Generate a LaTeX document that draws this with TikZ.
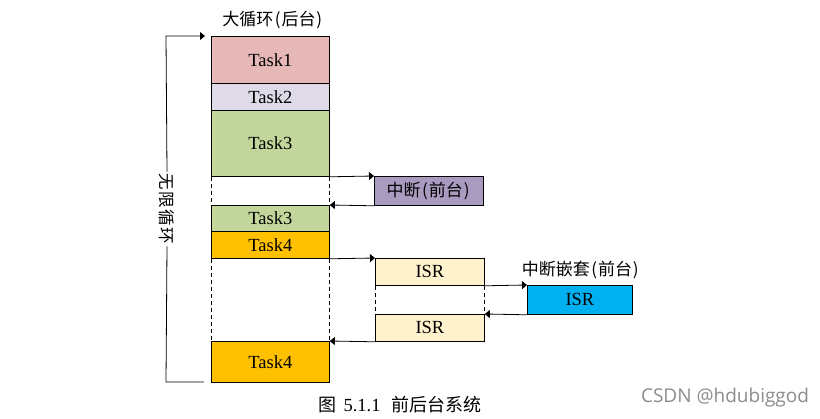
\documentclass[tikz,border=0pt]{standalone}
\usepackage{fontspec}
\setmainfont{Liberation Serif}
\newfontfamily\cjk{Noto Sans CJK SC}
\newfontfamily\wmfont{Open Sans}
\usetikzlibrary{arrows.meta}
\definecolor{cone}{HTML}{E6B9B8}
\definecolor{ctwo}{HTML}{DFDAE8}
\definecolor{cthree}{HTML}{C3D69B}
\definecolor{cfour}{HTML}{FFC000}
\definecolor{cint}{HTML}{A99BC0}
\definecolor{cisr}{HTML}{FFF2CC}
\definecolor{cnest}{HTML}{00B0F0}
\newcommand{\lp}{\kern1.5pt(\kern1pt}
\newcommand{\rp}{\kern1pt)\kern1.5pt}
\begin{document}
\begin{tikzpicture}[x=1pt,y=-1pt,
  box/.style={draw=black, line width=0.8pt, anchor=north west, inner sep=0pt,
    font=\fontsize{18.5}{20}\selectfont},
  arr/.style={-{Triangle[length=5pt,width=8pt]}, line width=0.8pt},
  gap/.style={line width=0.8pt, dash pattern=on 4pt off 3pt},
  cjkfont/.style={font=\cjk\fontsize{17}{19}\selectfont},
  cjklabel/.style={cjkfont, inner sep=0pt}]
\useasboundingbox (0,0) rectangle (820,419);
% main column
\node[box, fill=cone,   minimum width=118pt, minimum height=47pt] (t1)  at (211,36)  {Task1};
\node[box, fill=ctwo,   minimum width=118pt, minimum height=27pt] (t2)  at (211,83)  {Task2};
\node[box, fill=cthree, minimum width=118pt, minimum height=66pt] (t3)  at (211,110) {Task3};
\node[box, fill=cthree, minimum width=118pt, minimum height=26pt] (t3b) at (211,205) {Task3};
\node[box, fill=cfour,  minimum width=118pt, minimum height=27pt] (t4)  at (211,231) {Task4};
\node[box, fill=cfour,  minimum width=118pt, minimum height=41pt] (t4b) at (211,341) {Task4};
% foreground
\node[box, fill=cint,  minimum width=109pt, minimum height=29pt, cjkfont] (int) at (374,176) {中断\lp 前台\rp};
\node[box, fill=cisr,  minimum width=109pt, minimum height=27pt] (isr1) at (375,258) {ISR};
\node[box, fill=cisr,  minimum width=109pt, minimum height=27pt] (isr2) at (375,314) {ISR};
\node[box, fill=cnest, minimum width=105pt, minimum height=29pt] (nest) at (527,285) {ISR};
% labels
\node[cjklabel] (title) at (273,20) {大循环\lp 后台\rp};
\node[cjklabel] (nestlabel) at (581,270) {中断嵌套\lp 前台\rp};
% dashed gaps
\draw[gap] (t3.south west) -- (t3b.north west);
\draw[gap] (t3.south east) -- (t3b.north east);
\draw[gap] (t4.south west) -- (t4b.north west);
\draw[gap] (t4.south east) -- (t4b.north east);
\draw[gap] (isr1.south west) -- (isr2.north west);
\draw[gap] (isr1.south east) -- (isr2.north east);
% arrows
\draw[arr] (t3.south east) -- (int.north west);
\draw[arr] (int.south west) -- (t3b.north east);
\draw[arr] (t4.south east) -- (isr1.north west);
\draw[arr] (isr2.south west) -- (t4b.north east);
\draw[arr] (isr1.south east) -- (nest.north west);
\draw[arr] (nest.south west) -- (isr2.north east);
% infinite loop
\node[rotate=-90, font=\cjk\fontsize{16.5}{18}\selectfont, inner xsep=2pt, inner ysep=0pt] (loop) at (167,209) {无\kern1.5pt 限\kern1.5pt 循\kern1.5pt 环};
\coordinate (lb) at (204,382);
\coordinate (lc) at (166,382);
\coordinate (tc) at (166,36);
\coordinate (ta) at (205,36);
\draw[line width=0.8pt] (lb) -- (lc) -- (loop.east);
\draw[arr] (loop.west) -- (tc) -- (ta);
% caption
\node[inner sep=0pt] (caption) at (400,405) {\cjk\fontsize{18}{19}\selectfont 图\hspace{7pt}\normalfont\fontsize{18.5}{19}\selectfont 5.1.1\hspace{11pt}\cjk\fontsize{18}{19}\selectfont 前后台系统};
\node[inner sep=0pt, text=black!45, font=\wmfont\fontsize{19}{21}\selectfont] (wm) at (725,398) {CSDN @hdubiggod};
\end{tikzpicture}
\end{document}
